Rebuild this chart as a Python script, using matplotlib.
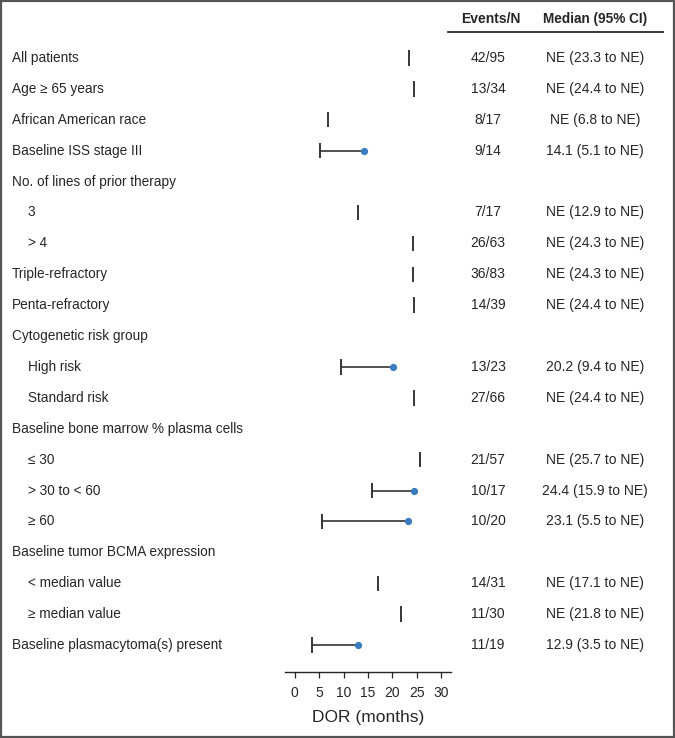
import matplotlib
matplotlib.use('Agg')
import matplotlib.pyplot as plt
from matplotlib.transforms import blended_transform_factory
from matplotlib.patches import Rectangle
import numpy as np

# row labels, indent flag (1 = sub-group)
labels = ['All patients', 'Age \u2265 65 years', 'African American race', 'Baseline ISS stage III',
          'No. of lines of prior therapy', '3', '> 4', 'Triple-refractory', 'Penta-refractory',
          'Cytogenetic risk group', 'High risk', 'Standard risk',
          'Baseline bone marrow % plasma cells', '\u2264 30', '> 30 to < 60', '\u2265 60',
          'Baseline tumor BCMA expression', '< median value', '\u2265 median value',
          'Baseline plasmacytoma(s) present']
indent = [0, 0, 0, 0, 0, 1, 1, 0, 0, 0, 1, 1, 0, 1, 1, 1, 0, 1, 1, 0]
events = ['42/95', '13/34', '8/17', '9/14', '', '7/17', '26/63', '36/83', '14/39', '',
          '13/23', '27/66', '', '21/57', '10/17', '10/20', '', '14/31', '11/30', '11/19']
median_txt = ['NE (23.3 to NE)', 'NE (24.4 to NE)', 'NE (6.8 to NE)', '14.1 (5.1 to NE)', '',
              'NE (12.9 to NE)', 'NE (24.3 to NE)', 'NE (24.3 to NE)', 'NE (24.4 to NE)', '',
              '20.2 (9.4 to NE)', 'NE (24.4 to NE)', '', 'NE (25.7 to NE)', '24.4 (15.9 to NE)',
              '23.1 (5.5 to NE)', '', 'NE (17.1 to NE)', 'NE (21.8 to NE)', '12.9 (3.5 to NE)']
# NaN median = not estimable, NaN lower = header row
median = [np.nan, np.nan, np.nan, 14.1, np.nan, np.nan, np.nan, np.nan, np.nan, np.nan,
          20.2, np.nan, np.nan, np.nan, 24.4, 23.1, np.nan, np.nan, np.nan, 12.9]
lower = [23.3, 24.4, 6.8, 5.1, np.nan, 12.9, 24.3, 24.3, 24.4, np.nan,
         9.4, 24.4, np.nan, 25.7, 15.9, 5.5, np.nan, 17.1, 21.8, 3.5]
xticks = [0, 5, 10, 15, 20, 25, 30]

narrow = ['Liberation Sans Narrow', 'Liberation Sans', 'DejaVu Sans']
regular = ['Liberation Sans', 'DejaVu Sans']
ink = '#262626'

W, H = 675, 738
fig = plt.figure(figsize=(W / 100, H / 100), dpi=100)

# axes: x -2..32 -> px 285..451 ; y bottom at px 672, top px 40
ax = fig.add_axes([285 / W, 1 - 672 / H, (451 - 285) / W, (672 - 40) / H])
ax.set_xlim(-2, 32)
ax.set_ylim(19.87, -0.58)

for i in range(len(labels)):
    lo = lower[i]
    if np.isnan(lo):
        continue
    ax.plot([lo, lo], [i - 0.25, i + 0.25], color=ink, lw=1.3, solid_capstyle='butt')
    if not np.isnan(median[i]):
        ax.plot([lo, median[i]], [i, i], color='#333333', lw=1.2)
        ax.plot(median[i], i, 'o', color='#3a7cc0', ms=4.2, zorder=3)

for s in ['top', 'right', 'left']:
    ax.spines[s].set_visible(False)
ax.spines['bottom'].set_color(ink)
ax.spines['bottom'].set_linewidth(1.0)
ax.set_yticks([])
ax.set_xticks(xticks)
ax.tick_params(axis='x', length=4, width=0.9, colors=ink, pad=6, labelsize=10)
for t in ax.get_xticklabels():
    t.set_family(narrow)
ax.set_xlabel('DOR (months)', fontsize=12.5, family=narrow, color=ink, labelpad=7)
ax.patch.set_visible(False)

tr = blended_transform_factory(fig.transFigure, ax.transData)
for i, lab in enumerate(labels):
    x = 28 / W if indent[i] else 12 / W
    ax.text(x, i, lab, transform=tr, ha='left', va='center', fontsize=9.8,
            family=regular, color=ink, clip_on=False)
    if events[i]:
        ax.text(488 / W, i, events[i], transform=tr, ha='center', va='center',
                fontsize=10, family=narrow, color=ink, clip_on=False)
        ax.text(595 / W, i, median_txt[i], transform=tr, ha='center', va='center',
                fontsize=10, family=narrow, color=ink, clip_on=False)

# column headers
fig.text(491 / W, 1 - 23 / H, 'Events/N', ha='center', va='baseline', fontsize=10,
         fontweight='bold', family=narrow, color=ink)
fig.text(595.5 / W, 1 - 23 / H, 'Median (95% CI)', ha='center', va='baseline', fontsize=9.8,
         fontweight='bold', family=narrow, color=ink)
fig.add_artist(plt.Line2D([448 / W, 663 / W], [1 - 32 / H, 1 - 32 / H],
                          transform=fig.transFigure, color=ink, lw=1.3))

# outer frame
fig.add_artist(Rectangle((0.5 / W, 1 / H), 1 - 1.5 / W, 1 - 1.8 / H, transform=fig.transFigure,
                         fill=False, edgecolor='#555555', lw=1.6))

fig.savefig('out.png', dpi=100, facecolor='white')
